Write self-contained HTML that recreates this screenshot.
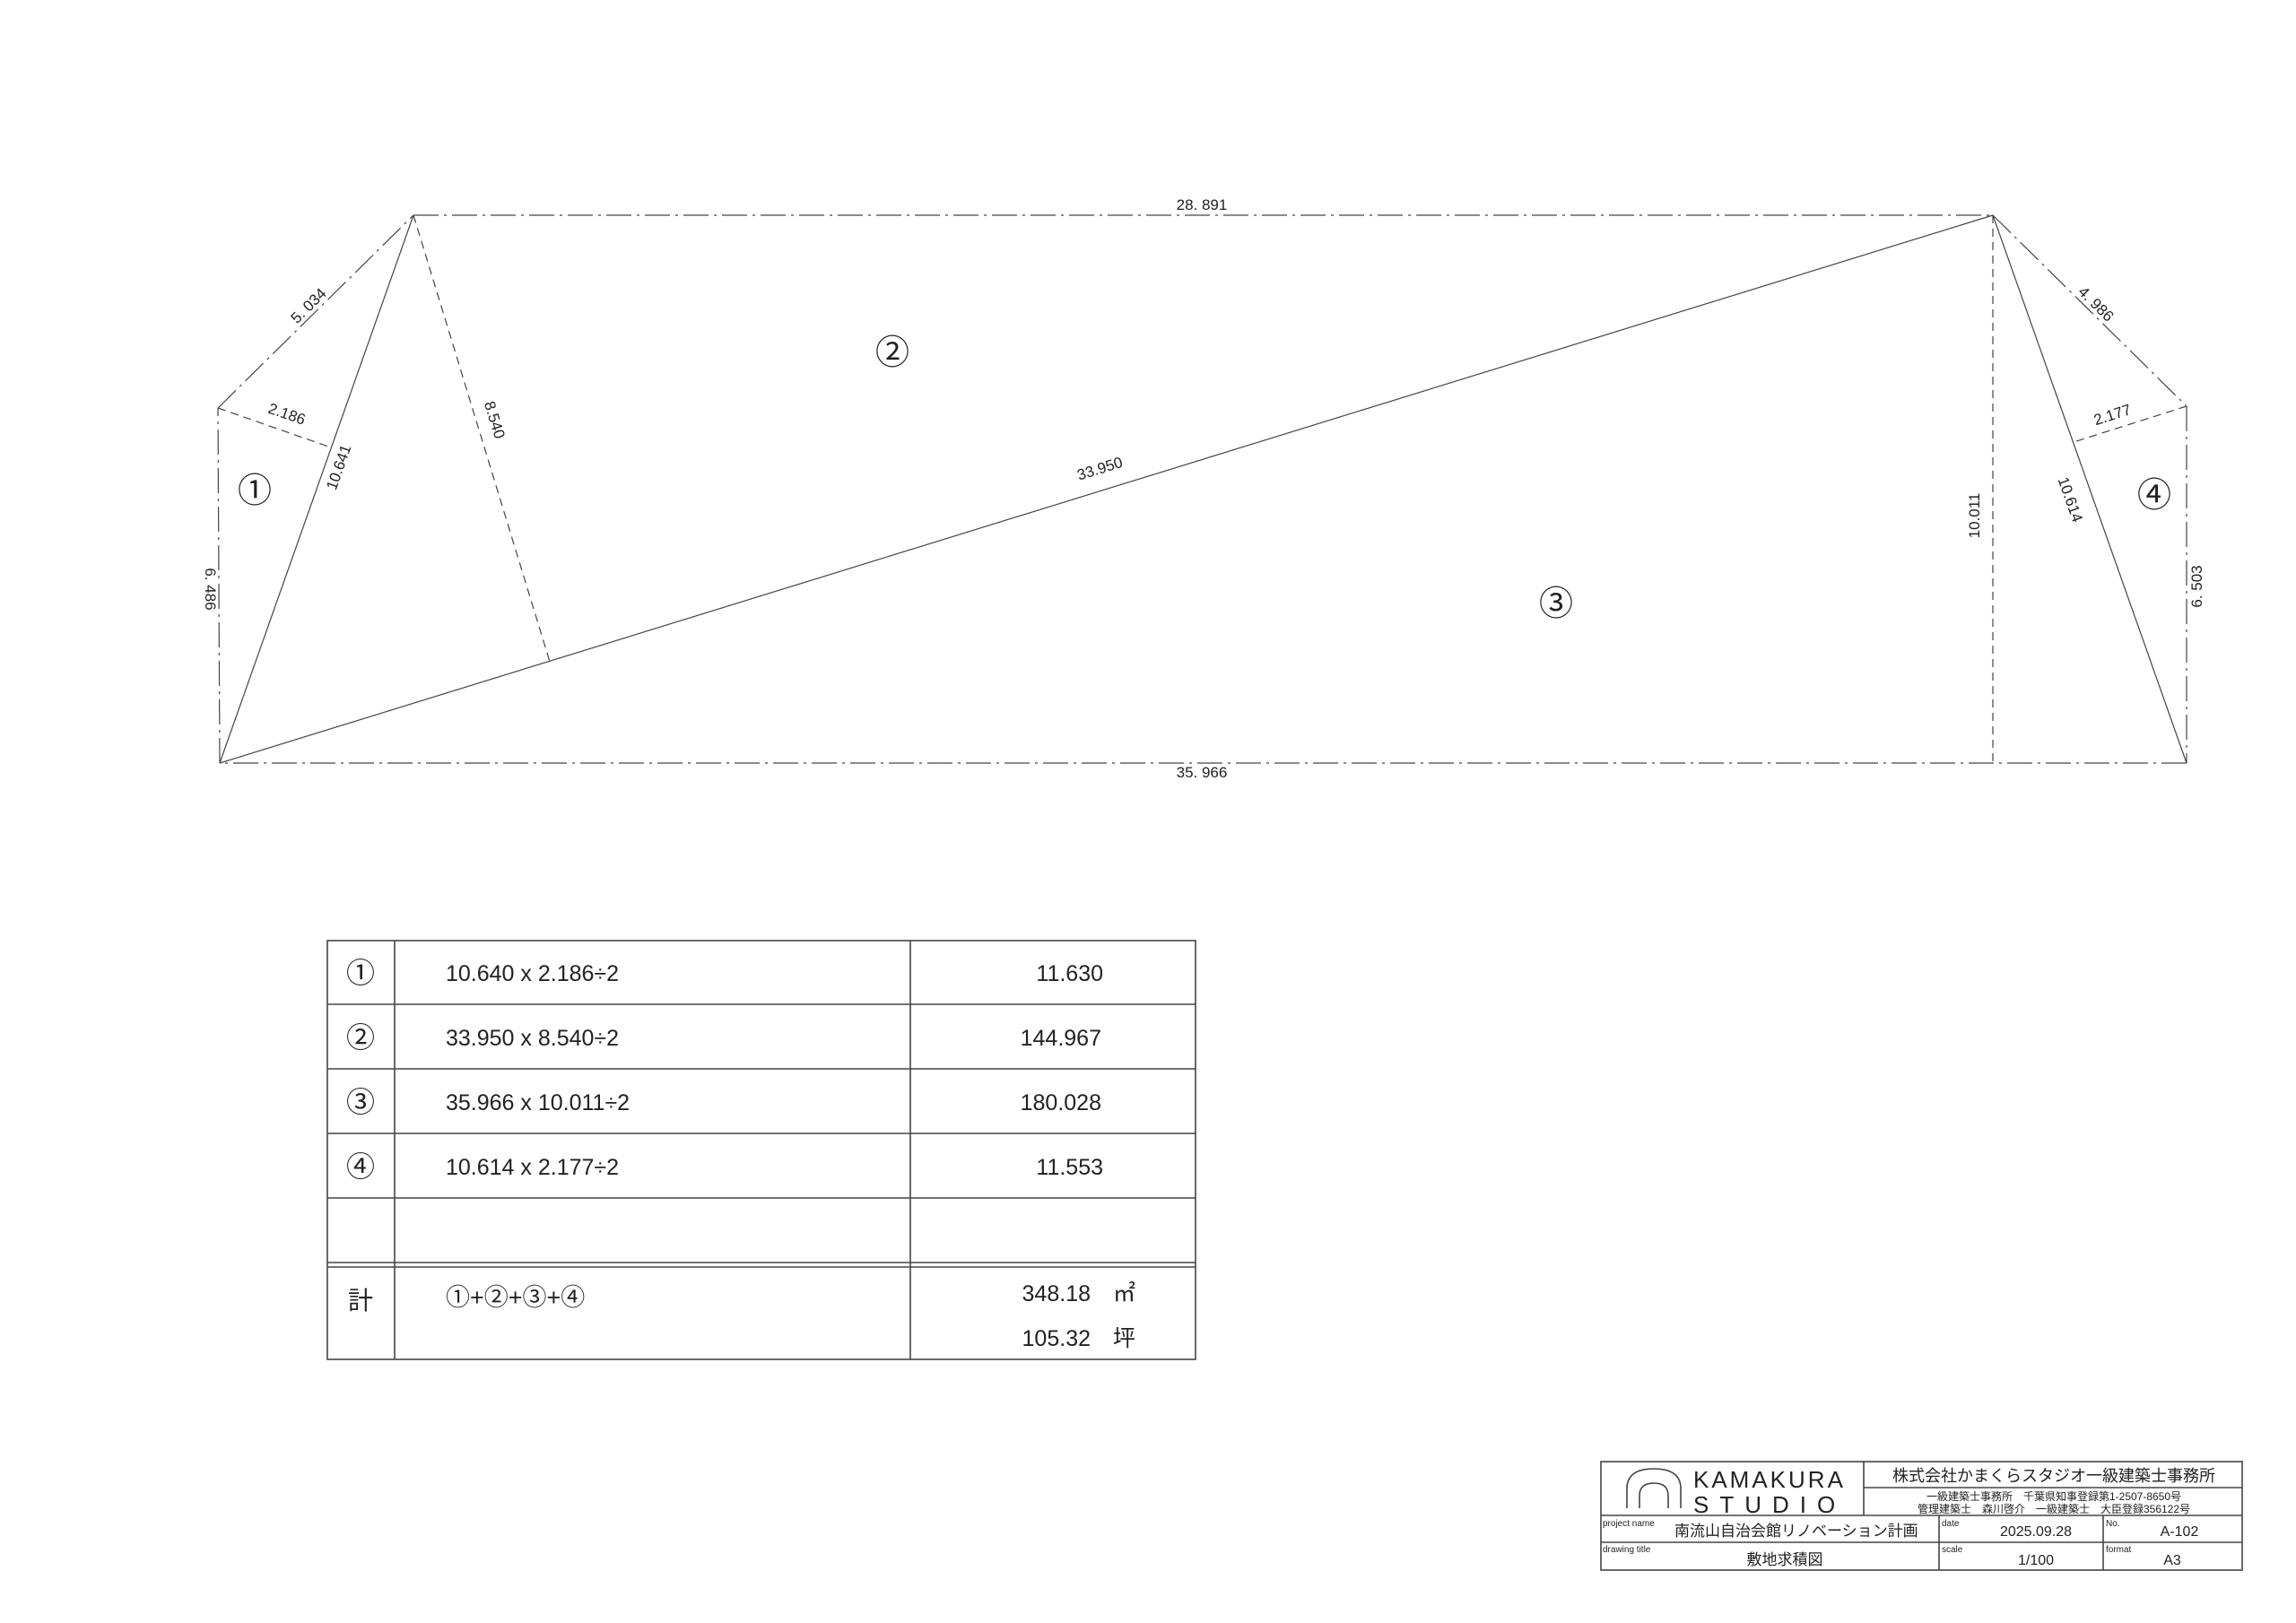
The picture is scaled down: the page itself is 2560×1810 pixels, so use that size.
<!DOCTYPE html>
<html><head><meta charset="utf-8"><style>
html,body{margin:0;padding:0;background:#fff;}
svg{display:block;}
text{font-family:"Liberation Sans","Noto Sans CJK JP",sans-serif;fill:#222;}
</style></head><body>
<svg width="2560" height="1810" viewBox="0 0 2560 1810" xmlns="http://www.w3.org/2000/svg">
<g stroke="#444" stroke-width="1.2" fill="none">
 <g stroke-dasharray="28 6 3 6">
  <line x1="243" y1="455" x2="461" y2="240"/>
  <line x1="461" y1="240" x2="2222" y2="240"/>
  <line x1="2222" y1="240" x2="2438" y2="453"/>
  <line x1="2438" y1="453" x2="2438" y2="851"/>
  <line x1="2438" y1="851" x2="245" y2="851"/>
  <line x1="245" y1="851" x2="243" y2="455"/>
 </g>
 <line x1="245" y1="851" x2="461" y2="240"/>
 <line x1="245" y1="851" x2="2222" y2="240"/>
 <line x1="2222" y1="240" x2="2438" y2="851"/>
 <g stroke-dasharray="9 6">
  <line x1="461" y1="240" x2="613" y2="738"/>
  <line x1="243" y1="455" x2="369" y2="499"/>
  <line x1="2438" y1="453" x2="2312" y2="493"/>
  <line x1="2222" y1="240" x2="2222" y2="851"/>
 </g>
</g>
<g font-size="17">
 <text x="1340" y="234" text-anchor="middle">28. 891</text>
 <text x="1340" y="867" text-anchor="middle">35. 966</text>
 <text transform="translate(1228,528) rotate(-17.2)" text-anchor="middle">33.950</text>
 <text transform="translate(348,345) rotate(-44.6)" text-anchor="middle">5. 034</text>
 <text transform="translate(318,467) rotate(19)" text-anchor="middle">2.186</text>
 <text transform="translate(383,523) rotate(-70.5)" text-anchor="middle">10.641</text>
 <text transform="translate(546,470) rotate(73)" text-anchor="middle">8.540</text>
 <text transform="translate(229,657) rotate(90)" text-anchor="middle">6. 486</text>
 <text transform="translate(2333,343) rotate(44.6)" text-anchor="middle">4. 986</text>
 <text transform="translate(2357,468) rotate(-17.6)" text-anchor="middle">2.177</text>
 <text transform="translate(2303,559) rotate(70.5)" text-anchor="middle">10.614</text>
 <text transform="translate(2207,575) rotate(-90)" text-anchor="middle">10.011</text>
 <text transform="translate(2455,654) rotate(-90)" text-anchor="middle">6. 503</text>
</g>
<g font-size="38" text-anchor="middle">
 <text x="284" y="560">①</text>
 <text x="995" y="406">②</text>
 <text x="1735" y="686">③</text>
 <text x="2402" y="565">④</text>
</g>
<g transform="translate(0,-3)">
<g stroke="#444" stroke-width="1.6" fill="none">
 <rect x="365" y="1052" width="968" height="467"/>
 <line x1="440" y1="1052" x2="440" y2="1519"/>
 <line x1="1015" y1="1052" x2="1015" y2="1519"/>
 <line x1="365" y1="1123" x2="1333" y2="1123"/>
 <line x1="365" y1="1195" x2="1333" y2="1195"/>
 <line x1="365" y1="1267" x2="1333" y2="1267"/>
 <line x1="365" y1="1339" x2="1333" y2="1339"/>
 <line x1="365" y1="1411" x2="1333" y2="1411"/>
 <line x1="365" y1="1416" x2="1333" y2="1416"/>
</g>
<g font-size="25">
 <g text-anchor="middle" font-size="32"><text x="402" y="1099">①</text><text x="402" y="1171">②</text><text x="402" y="1243">③</text><text x="402" y="1315">④</text><text x="402" y="1463" font-size="28">計</text></g>
 <text x="497" y="1097">10.640 x 2.186÷2</text>
 <text x="497" y="1169">33.950 x 8.540÷2</text>
 <text x="497" y="1241">35.966 x 10.011÷2</text>
 <text x="497" y="1313">10.614 x 2.177÷2</text>
 <text x="497" y="1459" font-size="27">①+②+③+④</text>
 <g text-anchor="end"><text x="1230" y="1097">11.630</text><text x="1228" y="1169">144.967</text><text x="1228" y="1241">180.028</text><text x="1230" y="1313">11.553</text><text x="1216" y="1454">348.18</text><text x="1216" y="1504">105.32</text></g>
 <text x="1241" y="1454">㎡</text><text x="1241" y="1504">坪</text>
</g>
</g>
<g stroke="#444" stroke-width="1.6" fill="none">
 <rect x="1785" y="1630" width="715" height="121"/>
 <line x1="2078" y1="1630" x2="2078" y2="1690"/>
 <line x1="2078" y1="1659" x2="2500" y2="1659"/>
 <line x1="1785" y1="1690" x2="2500" y2="1690"/>
 <line x1="1785" y1="1720" x2="2500" y2="1720"/>
 <line x1="2162" y1="1690" x2="2162" y2="1751"/>
 <line x1="2345" y1="1690" x2="2345" y2="1751"/>
 <path d="M1814 1682 L1814 1660 Q1814 1638 1844 1638 Q1874 1638 1874 1660 L1874 1682"/>
 <path d="M1828 1682 L1828 1668 Q1828 1654 1844 1654 Q1860 1654 1860 1668 L1860 1682"/>
</g>
<g fill="#333">
 <text x="1888" y="1659" font-size="26" letter-spacing="3">KAMAKURA</text>
 <text x="1888" y="1687" font-size="26" letter-spacing="12">STUDIO</text>
 <text x="2290" y="1652" font-size="18" text-anchor="middle">株式会社かまくらスタジオ一級建築士事務所</text>
 <text x="2290" y="1673" font-size="12" text-anchor="middle">一級建築士事務所　千葉県知事登録第1-2507-8650号</text>
 <text x="2290" y="1687" font-size="12" text-anchor="middle">管理建築士　森川啓介　一級建築士　大臣登録356122号</text>
 <text x="1787" y="1702" font-size="10">project name</text>
 <text x="1867" y="1713" font-size="17">南流山自治会館リノベーション計画</text>
 <text x="1787" y="1731" font-size="10">drawing title</text>
 <text x="1990" y="1745" font-size="17" text-anchor="middle">敷地求積図</text>
 <text x="2165" y="1702" font-size="10">date</text>
 <text x="2270" y="1713" font-size="16" text-anchor="middle">2025.09.28</text>
 <text x="2165" y="1731" font-size="10">scale</text>
 <text x="2270" y="1745" font-size="16" text-anchor="middle">1/100</text>
 <text x="2348" y="1702" font-size="10">No.</text>
 <text x="2430" y="1713" font-size="16" text-anchor="middle">A-102</text>
 <text x="2348" y="1731" font-size="10">format</text>
 <text x="2422" y="1745" font-size="16" text-anchor="middle">A3</text>
</g>
</svg>
</body></html>
